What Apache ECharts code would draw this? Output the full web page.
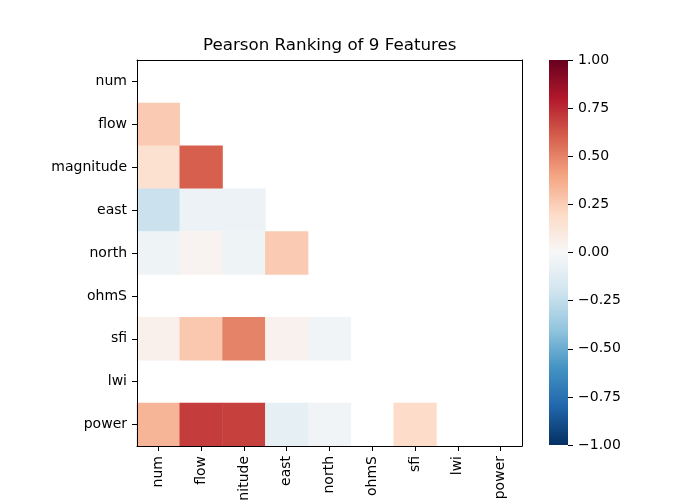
<!DOCTYPE html>
<html>
<head>
<meta charset="utf-8">
<script src="https://cdn.jsdelivr.net/npm/echarts@6/dist/echarts.min.js"></script>
<style>
  html, body { margin: 0; padding: 0; background: #fff; }
  #chart { width: 700px; height: 500px; }
</style>
</head>
<body>
<div id="chart"></div>
<script>
// feature names, top-to-bottom / left-to-right
const features = ['num', 'flow', 'magnitude', 'east', 'north', 'ohmS', 'sfi', 'lwi', 'power'];

// lower triangle of the Pearson matrix (diagonal and above are masked), null = NaN
const corrRows = [
    [],
    [0.26],
    [0.16, 0.60],
    [-0.22, -0.06, -0.06],
    [-0.05, 0.03, -0.05, 0.26],
    [null, null, null, null, null],
    [0.05, 0.27, 0.50, 0.04, -0.03, null],
    [null, null, null, null, null, null, null],
    [0.34, 0.70, 0.69, -0.09, -0.03, null, 0.19, null]
];

// RdBu_r
const rdbu = ['#053061', '#2166ac', '#4393c3', '#92c5de', '#d1e5f0', '#f7f7f7',
    '#fddbc7', '#f4a582', '#d6604d', '#b2182b', '#67001f'];

const cells = [];
corrRows.forEach((row, r) => {
    row.forEach((v, c) => {
        if (v !== null) cells.push([c, r, v]);
    });
});

const font = 'DejaVu Sans';
const black = { color: '#000', width: 1 };
// top and right spines
const frameAxis = { z: 5, axisLine: { show: true, lineStyle: black }, axisTick: { show: false }, axisLabel: { show: false }, splitLine: { show: false } };

// colorbar gradient, bottom (-1) to top (+1)
const cbStops = rdbu.map((c, i) => ({ offset: 1 - i / (rdbu.length - 1), color: c }));

const chart = echarts.init(document.getElementById('chart'));
chart.setOption({
    backgroundColor: '#fff',
    animation: false,
    textStyle: { fontFamily: font },
    title: {
        text: 'Pearson Ranking of 9 Features',
        left: 203,
        top: 37,
        padding: 0,
        textStyle: { fontFamily: font, fontSize: 16.7, fontWeight: 'normal', color: '#000' }
    },
    grid: [
        { left: 137, top: 60, width: 385, height: 386, outerBoundsMode: 'none' },
        { left: 549, top: 60, width: 19, height: 385, outerBoundsMode: 'none' }
    ],
    xAxis: [
        {
            type: 'category',
            data: features,
            gridIndex: 0,
            z: 5,
            axisLine: { show: true, lineStyle: black },
            axisTick: { show: true, alignWithLabel: true, length: 5, lineStyle: { color: '#000' } },
            axisLabel: { rotate: 90, margin: 10, fontSize: 14, color: '#000', fontFamily: font, interval: 0 },
            splitLine: { show: false }
        },
        Object.assign({ type: 'category', data: features, gridIndex: 0, position: 'top' }, frameAxis),
        { type: 'category', data: [''], gridIndex: 1, show: false }
    ],
    yAxis: [
        {
            type: 'category',
            data: features,
            inverse: true,
            gridIndex: 0,
            z: 5,
            axisLine: { show: true, lineStyle: black },
            axisTick: { show: true, alignWithLabel: true, length: 5, lineStyle: { color: '#000' } },
            axisLabel: { margin: 10, fontSize: 14, color: '#000', fontFamily: font, interval: 0 },
            splitLine: { show: false }
        },
        Object.assign({ type: 'category', data: features, inverse: true, gridIndex: 0, position: 'right' }, frameAxis),
        {
            type: 'value',
            gridIndex: 1,
            position: 'right',
            min: -1,
            max: 1,
            interval: 0.25,
            axisLine: { show: false, onZero: false },
            axisTick: { show: true, length: 5, lineStyle: { color: '#000' } },
            axisLabel: {
                margin: 10, fontSize: 14, color: '#000', fontFamily: font,
                formatter: v => (v < 0 ? '\u2212' : '') + Math.abs(v).toFixed(2)
            },
            splitLine: { show: false }
        }
    ],
    visualMap: {
        type: 'continuous',
        show: false,
        min: -1,
        max: 1,
        dimension: 2,
        seriesIndex: 0,
        inRange: { color: rdbu }
    },
    graphic: [{
        type: 'rect',
        left: 549,
        top: 60,
        shape: { width: 19, height: 385 },
        style: { fill: new echarts.graphic.LinearGradient(0, 0, 0, 1, cbStops) },
        silent: true
    }],
    series: [
        {
            type: 'heatmap',
            xAxisIndex: 0,
            yAxisIndex: 0,
            data: cells,
            itemStyle: { borderWidth: 0 },
            emphasis: { disabled: true }
        },
        {
            type: 'scatter',
            xAxisIndex: 2,
            yAxisIndex: 2,
            data: [],
            silent: true
        }
    ]
});
</script>
</body>
</html>
